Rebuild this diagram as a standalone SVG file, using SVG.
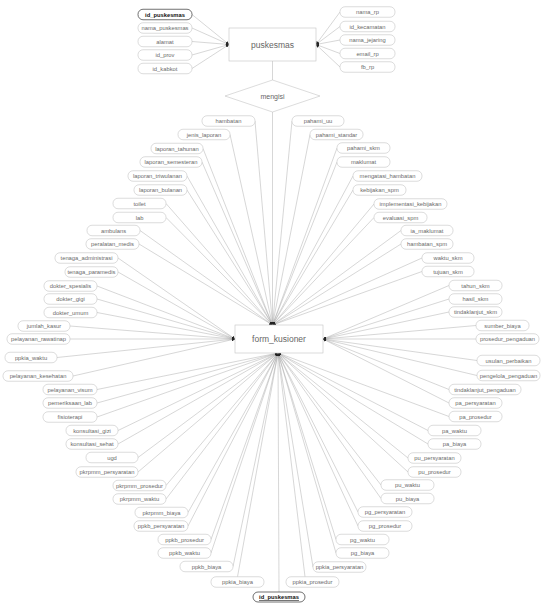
<svg xmlns="http://www.w3.org/2000/svg" width="541" height="603" viewBox="0 0 541 603">
<defs>
<marker id="arr" viewBox="0 0 6 6" refX="6" refY="3" markerWidth="3.2" markerHeight="3.2" orient="auto" markerUnits="userSpaceOnUse"><path d="M0,0 L6,3 L0,6 z" fill="#222"/></marker>
<style>
.a rect{fill:#fff;stroke:#c4c4c4;stroke-width:0.6}
.a text{font-family:"Liberation Sans",Arial,sans-serif;font-size:5.8px;fill:#6a6a6a;text-anchor:middle}
.k rect{fill:#fff;stroke:#333;stroke-width:0.7}
.k text{font-family:"Liberation Sans",Arial,sans-serif;font-size:5.8px;fill:#111;font-weight:bold;text-anchor:middle}
.e rect,.e polygon{fill:#fff;stroke:#c4c4c4;stroke-width:0.6}
.e text{font-family:"Liberation Sans",Arial,sans-serif;font-size:8.5px;fill:#666;text-anchor:middle}
#connectors line{stroke:#9a9a9a;stroke-width:0.4;fill:none}
#connectors line.m{marker-end:url(#arr)}
</style>
</defs>
<rect width="541" height="603" fill="#fff"/>
<g id="connectors">
<line class="m" x1="192" y1="14.5" x2="229" y2="44.5"/>
<line class="m" x1="192" y1="28" x2="229" y2="44.5"/>
<line class="m" x1="192" y1="41.5" x2="229" y2="44.5"/>
<line class="m" x1="192" y1="55" x2="229" y2="44.5"/>
<line class="m" x1="192" y1="68.5" x2="229" y2="44.5"/>
<line class="m" x1="340" y1="12" x2="316" y2="44.5"/>
<line class="m" x1="340" y1="26.5" x2="316" y2="44.5"/>
<line class="m" x1="340" y1="40" x2="316" y2="44.5"/>
<line class="m" x1="340" y1="53.5" x2="316" y2="44.5"/>
<line class="m" x1="340" y1="67" x2="316" y2="44.5"/>
<line x1="272.5" y1="61" x2="272.5" y2="80"/>
<line class="m" x1="272.5" y1="112" x2="272.5" y2="325"/>
<line class="m" x1="279" y1="592" x2="278" y2="353"/>
<line class="m" x1="255" y1="121" x2="272.5" y2="325"/>
<line class="m" x1="230" y1="134.5" x2="272.5" y2="325"/>
<line class="m" x1="203" y1="148.5" x2="272.5" y2="325"/>
<line class="m" x1="202" y1="162" x2="272.5" y2="325"/>
<line class="m" x1="187" y1="176" x2="272.5" y2="325"/>
<line class="m" x1="187" y1="190" x2="272.5" y2="325"/>
<line class="m" x1="166" y1="203.5" x2="272.5" y2="325"/>
<line class="m" x1="166" y1="217.5" x2="272.5" y2="325"/>
<line class="m" x1="140" y1="230.5" x2="272.5" y2="325"/>
<line class="m" x1="139" y1="244" x2="272.5" y2="325"/>
<line class="m" x1="118" y1="258" x2="235" y2="339"/>
<line class="m" x1="118" y1="272" x2="235" y2="339"/>
<line class="m" x1="97" y1="286" x2="235" y2="339"/>
<line class="m" x1="97" y1="299" x2="235" y2="339"/>
<line class="m" x1="97" y1="312.5" x2="235" y2="339"/>
<line class="m" x1="70" y1="326" x2="235" y2="339"/>
<line class="m" x1="70" y1="339" x2="235" y2="339"/>
<line class="m" x1="57" y1="357.5" x2="235" y2="339"/>
<line class="m" x1="73" y1="376" x2="235" y2="339"/>
<line class="m" x1="97" y1="389.5" x2="278" y2="353"/>
<line class="m" x1="97" y1="403" x2="278" y2="353"/>
<line class="m" x1="97" y1="417" x2="278" y2="353"/>
<line class="m" x1="118" y1="430.5" x2="278" y2="353"/>
<line class="m" x1="118" y1="444" x2="278" y2="353"/>
<line class="m" x1="138" y1="457.5" x2="278" y2="353"/>
<line class="m" x1="138" y1="472" x2="278" y2="353"/>
<line class="m" x1="166" y1="485.5" x2="278" y2="353"/>
<line class="m" x1="166" y1="499" x2="278" y2="353"/>
<line class="m" x1="188" y1="512.5" x2="278" y2="353"/>
<line class="m" x1="188" y1="526" x2="278" y2="353"/>
<line class="m" x1="211" y1="539.5" x2="278" y2="353"/>
<line class="m" x1="211" y1="553" x2="278" y2="353"/>
<line class="m" x1="233" y1="566.5" x2="278" y2="353"/>
<line class="m" x1="237.5" y1="576.75" x2="278" y2="353"/>
<line class="m" x1="292" y1="121" x2="272.5" y2="325"/>
<line class="m" x1="310" y1="134.5" x2="272.5" y2="325"/>
<line class="m" x1="337" y1="148" x2="272.5" y2="325"/>
<line class="m" x1="337" y1="162" x2="272.5" y2="325"/>
<line class="m" x1="353" y1="176" x2="272.5" y2="325"/>
<line class="m" x1="353" y1="190" x2="272.5" y2="325"/>
<line class="m" x1="374" y1="204" x2="272.5" y2="325"/>
<line class="m" x1="374" y1="217.5" x2="272.5" y2="325"/>
<line class="m" x1="401" y1="230.5" x2="272.5" y2="325"/>
<line class="m" x1="401" y1="244" x2="272.5" y2="325"/>
<line class="m" x1="422" y1="258" x2="272.5" y2="325"/>
<line class="m" x1="422" y1="271.5" x2="272.5" y2="325"/>
<line class="m" x1="449" y1="285.5" x2="323" y2="339"/>
<line class="m" x1="449" y1="299" x2="323" y2="339"/>
<line class="m" x1="449" y1="312" x2="323" y2="339"/>
<line class="m" x1="476" y1="325.5" x2="323" y2="339"/>
<line class="m" x1="476" y1="339" x2="323" y2="339"/>
<line class="m" x1="477" y1="360.5" x2="323" y2="339"/>
<line class="m" x1="477" y1="375.5" x2="323" y2="339"/>
<line class="m" x1="449" y1="389.5" x2="323" y2="339"/>
<line class="m" x1="449" y1="403" x2="323" y2="339"/>
<line class="m" x1="449" y1="416.5" x2="278" y2="353"/>
<line class="m" x1="428" y1="430.5" x2="278" y2="353"/>
<line class="m" x1="428" y1="444" x2="278" y2="353"/>
<line class="m" x1="408" y1="458" x2="278" y2="353"/>
<line class="m" x1="408" y1="472" x2="278" y2="353"/>
<line class="m" x1="381" y1="485" x2="278" y2="353"/>
<line class="m" x1="381" y1="498.5" x2="278" y2="353"/>
<line class="m" x1="358" y1="512" x2="278" y2="353"/>
<line class="m" x1="358" y1="526" x2="278" y2="353"/>
<line class="m" x1="336" y1="539.5" x2="278" y2="353"/>
<line class="m" x1="336" y1="553" x2="278" y2="353"/>
<line class="m" x1="313" y1="567" x2="278" y2="353"/>
<line class="m" x1="305" y1="576.75" x2="278" y2="353"/>
</g>
<g id="puskesmas" class="e"><rect x="229" y="28" width="87" height="33"/><text x="272.5" y="47.5">puskesmas</text></g>
<g id="mengisi" class="e"><polygon points="272.5,80 320,96 272.5,112 225,96"/><text x="272.5" y="98.5" style="font-size:7px">mengisi</text></g>
<g id="form_kusioner" class="e"><rect x="235" y="325" width="88" height="28"/><text x="279" y="342">form_kusioner</text></g>
<g id="p_id_puskesmas" class="k"><rect x="138" y="9.25" width="54" height="10.5" rx="5"/><text x="165" y="16.5">id_puskesmas</text></g>
<g id="p_nama_puskesmas" class="a"><rect x="138" y="22.75" width="54" height="10.5" rx="5"/><text x="165" y="30">nama_puskesmas</text></g>
<g id="p_alamat" class="a"><rect x="138" y="36.25" width="54" height="10.5" rx="5"/><text x="165" y="43.5">alamat</text></g>
<g id="p_id_prov" class="a"><rect x="138" y="49.75" width="54" height="10.5" rx="5"/><text x="165" y="57">id_prov</text></g>
<g id="p_id_kabkot" class="a"><rect x="138" y="63.25" width="54" height="10.5" rx="5"/><text x="165" y="70.5">id_kabkot</text></g>
<g id="p_nama_rp" class="a"><rect x="340" y="6.75" width="55" height="10.5" rx="5"/><text x="367.5" y="14">nama_rp</text></g>
<g id="p_id_kecamatan" class="a"><rect x="340" y="21.25" width="55" height="10.5" rx="5"/><text x="367.5" y="28.5">id_kecamatan</text></g>
<g id="p_nama_jejaring" class="a"><rect x="340" y="34.75" width="55" height="10.5" rx="5"/><text x="367.5" y="42">nama_jejaring</text></g>
<g id="p_email_rp" class="a"><rect x="340" y="48.25" width="55" height="10.5" rx="5"/><text x="367.5" y="55.5">email_rp</text></g>
<g id="p_fb_rp" class="a"><rect x="340" y="61.75" width="55" height="10.5" rx="5"/><text x="367.5" y="69">fb_rp</text></g>
<g id="f_hambatan" class="a"><rect x="202" y="115.75" width="53" height="10.5" rx="5"/><text x="228.5" y="123">hambatan</text></g>
<g id="f_jenis_laporan" class="a"><rect x="178" y="129.25" width="52" height="10.5" rx="5"/><text x="204" y="136.5">jenis_laporan</text></g>
<g id="f_laporan_tahunan" class="a"><rect x="151" y="143.25" width="52" height="10.5" rx="5"/><text x="177" y="150.5">laporan_tahunan</text></g>
<g id="f_laporan_semesteran" class="a"><rect x="140" y="156.75" width="62" height="10.5" rx="5"/><text x="171" y="164">laporan_semesteran</text></g>
<g id="f_laporan_triwulanan" class="a"><rect x="128" y="170.75" width="59" height="10.5" rx="5"/><text x="157.5" y="178">laporan_triwulanan</text></g>
<g id="f_laporan_bulanan" class="a"><rect x="134" y="184.75" width="53" height="10.5" rx="5"/><text x="160.5" y="192">laporan_bulanan</text></g>
<g id="f_toilet" class="a"><rect x="113" y="198.25" width="53" height="10.5" rx="5"/><text x="139.5" y="205.5">toilet</text></g>
<g id="f_lab" class="a"><rect x="113" y="212.25" width="53" height="10.5" rx="5"/><text x="139.5" y="219.5">lab</text></g>
<g id="f_ambulans" class="a"><rect x="87" y="225.25" width="53" height="10.5" rx="5"/><text x="113.5" y="232.5">ambulans</text></g>
<g id="f_peralatan_medis" class="a"><rect x="86" y="238.75" width="53" height="10.5" rx="5"/><text x="112.5" y="246">peralatan_medis</text></g>
<g id="f_tenaga_administrasi" class="a"><rect x="55" y="252.75" width="63" height="10.5" rx="5"/><text x="86.5" y="260">tenaga_administrasi</text></g>
<g id="f_tenaga_paramedis" class="a"><rect x="65" y="266.75" width="53" height="10.5" rx="5"/><text x="91.5" y="274">tenaga_paramedis</text></g>
<g id="f_dokter_spesialis" class="a"><rect x="44" y="280.75" width="53" height="10.5" rx="5"/><text x="70.5" y="288">dokter_spesialis</text></g>
<g id="f_dokter_gigi" class="a"><rect x="44" y="293.75" width="53" height="10.5" rx="5"/><text x="70.5" y="301">dokter_gigi</text></g>
<g id="f_dokter_umum" class="a"><rect x="44" y="307.25" width="53" height="10.5" rx="5"/><text x="70.5" y="314.5">dokter_umum</text></g>
<g id="f_jumlah_kasur" class="a"><rect x="18" y="320.75" width="52" height="10.5" rx="5"/><text x="44" y="328">jumlah_kasur</text></g>
<g id="f_pelayanan_rawatinap" class="a"><rect x="7" y="333.75" width="63" height="10.5" rx="5"/><text x="38.5" y="341">pelayanan_rawatinap</text></g>
<g id="f_ppkia_waktu" class="a"><rect x="5" y="352.25" width="52" height="10.5" rx="5"/><text x="31" y="359.5">ppkia_waktu</text></g>
<g id="f_pelayanan_kesehatan" class="a"><rect x="3" y="370.75" width="70" height="10.5" rx="5"/><text x="38" y="378">pelayanan_kesehatan</text></g>
<g id="f_pelayanan_visum" class="a"><rect x="43" y="384.25" width="54" height="10.5" rx="5"/><text x="70" y="391.5">pelayanan_visum</text></g>
<g id="f_pemeriksaan_lab" class="a"><rect x="43" y="397.75" width="54" height="10.5" rx="5"/><text x="70" y="405">pemeriksaan_lab</text></g>
<g id="f_fisioterapi" class="a"><rect x="43" y="411.75" width="54" height="10.5" rx="5"/><text x="70" y="419">fisioterapi</text></g>
<g id="f_konsultasi_gizi" class="a"><rect x="66" y="425.25" width="52" height="10.5" rx="5"/><text x="92" y="432.5">konsultasi_gizi</text></g>
<g id="f_konsultasi_sehat" class="a"><rect x="66" y="438.75" width="52" height="10.5" rx="5"/><text x="92" y="446">konsultasi_sehat</text></g>
<g id="f_ugd" class="a"><rect x="86" y="452.25" width="52" height="10.5" rx="5"/><text x="112" y="459.5">ugd</text></g>
<g id="f_pkrpmm_persyaratan" class="a"><rect x="76" y="466.75" width="62" height="10.5" rx="5"/><text x="107" y="474">pkrpmm_persyaratan</text></g>
<g id="f_pkrpmm_prosedur" class="a"><rect x="113" y="480.25" width="53" height="10.5" rx="5"/><text x="139.5" y="487.5">pkrpmm_prosedur</text></g>
<g id="f_pkrpmm_waktu" class="a"><rect x="113" y="493.75" width="53" height="10.5" rx="5"/><text x="139.5" y="501">pkrpmm_waktu</text></g>
<g id="f_pkrpmm_biaya" class="a"><rect x="135" y="507.25" width="53" height="10.5" rx="5"/><text x="161.5" y="514.5">pkrpmm_biaya</text></g>
<g id="f_ppkb_persyaratan" class="a"><rect x="134" y="520.75" width="54" height="10.5" rx="5"/><text x="161" y="528">ppkb_persyaratan</text></g>
<g id="f_ppkb_prosedur" class="a"><rect x="158" y="534.25" width="53" height="10.5" rx="5"/><text x="184.5" y="541.5">ppkb_prosedur</text></g>
<g id="f_ppkb_waktu" class="a"><rect x="158" y="547.75" width="53" height="10.5" rx="5"/><text x="184.5" y="555">ppkb_waktu</text></g>
<g id="f_ppkb_biaya" class="a"><rect x="180" y="561.25" width="53" height="10.5" rx="5"/><text x="206.5" y="568.5">ppkb_biaya</text></g>
<g id="f_ppkia_biaya" class="a"><rect x="211" y="576.75" width="53" height="10.5" rx="5"/><text x="237.5" y="584">ppkia_biaya</text></g>
<g id="f_pahami_uu" class="a"><rect x="292" y="115.75" width="52" height="10.5" rx="5"/><text x="318" y="123">pahami_uu</text></g>
<g id="f_pahami_standar" class="a"><rect x="310" y="129.25" width="53" height="10.5" rx="5"/><text x="336.5" y="136.5">pahami_standar</text></g>
<g id="f_pahami_skm" class="a"><rect x="337" y="142.75" width="53" height="10.5" rx="5"/><text x="363.5" y="150">pahami_skm</text></g>
<g id="f_maklumat" class="a"><rect x="337" y="156.75" width="53" height="10.5" rx="5"/><text x="363.5" y="164">maklumat</text></g>
<g id="f_mengatasi_hambatan" class="a"><rect x="353" y="170.75" width="69" height="10.5" rx="5"/><text x="387.5" y="178">mengatasi_hambatan</text></g>
<g id="f_kebijakan_spm" class="a"><rect x="353" y="184.75" width="53" height="10.5" rx="5"/><text x="379.5" y="192">kebijakan_spm</text></g>
<g id="f_implementasi_kebijakan" class="a"><rect x="374" y="198.75" width="73" height="10.5" rx="5"/><text x="410.5" y="206">implementasi_kebijakan</text></g>
<g id="f_evaluasi_spm" class="a"><rect x="374" y="212.25" width="53" height="10.5" rx="5"/><text x="400.5" y="219.5">evaluasi_spm</text></g>
<g id="f_ia_maklumat" class="a"><rect x="401" y="225.25" width="52" height="10.5" rx="5"/><text x="427" y="232.5">ia_maklumat</text></g>
<g id="f_hambatan_spm" class="a"><rect x="401" y="238.75" width="52" height="10.5" rx="5"/><text x="427" y="246">hambatan_spm</text></g>
<g id="f_waktu_skm" class="a"><rect x="422" y="252.75" width="52" height="10.5" rx="5"/><text x="448" y="260">waktu_skm</text></g>
<g id="f_tujuan_skm" class="a"><rect x="422" y="266.25" width="52" height="10.5" rx="5"/><text x="448" y="273.5">tujuan_skm</text></g>
<g id="f_tahun_skm" class="a"><rect x="449" y="280.25" width="53" height="10.5" rx="5"/><text x="475.5" y="287.5">tahun_skm</text></g>
<g id="f_hasil_skm" class="a"><rect x="449" y="293.75" width="53" height="10.5" rx="5"/><text x="475.5" y="301">hasil_skm</text></g>
<g id="f_tindaklanjut_skm" class="a"><rect x="449" y="306.75" width="53" height="10.5" rx="5"/><text x="475.5" y="314">tindaklanjut_skm</text></g>
<g id="f_sumber_biaya" class="a"><rect x="476" y="320.25" width="53" height="10.5" rx="5"/><text x="502.5" y="327.5">sumber_biaya</text></g>
<g id="f_prosedur_pengaduan" class="a"><rect x="476" y="333.75" width="63" height="10.5" rx="5"/><text x="507.5" y="341">prosedur_pengaduan</text></g>
<g id="f_usulan_perbaikan" class="a"><rect x="477" y="355.25" width="63" height="10.5" rx="5"/><text x="508.5" y="362.5">usulan_perbaikan</text></g>
<g id="f_pengelola_pengaduan" class="a"><rect x="477" y="370.25" width="63" height="10.5" rx="5"/><text x="508.5" y="377.5">pengelola_pengaduan</text></g>
<g id="f_tindaklanjut_pengaduan" class="a"><rect x="449" y="384.25" width="72" height="10.5" rx="5"/><text x="485" y="391.5">tindaklanjut_pengaduan</text></g>
<g id="f_pa_persyaratan" class="a"><rect x="449" y="397.75" width="53" height="10.5" rx="5"/><text x="475.5" y="405">pa_persyaratan</text></g>
<g id="f_pa_prosedur" class="a"><rect x="449" y="411.25" width="53" height="10.5" rx="5"/><text x="475.5" y="418.5">pa_prosedur</text></g>
<g id="f_pa_waktu" class="a"><rect x="428" y="425.25" width="53" height="10.5" rx="5"/><text x="454.5" y="432.5">pa_waktu</text></g>
<g id="f_pa_biaya" class="a"><rect x="428" y="438.75" width="53" height="10.5" rx="5"/><text x="454.5" y="446">pa_biaya</text></g>
<g id="f_pu_persyaratan" class="a"><rect x="408" y="452.75" width="53" height="10.5" rx="5"/><text x="434.5" y="460">pu_persyaratan</text></g>
<g id="f_pu_prosedur" class="a"><rect x="408" y="466.75" width="53" height="10.5" rx="5"/><text x="434.5" y="474">pu_prosedur</text></g>
<g id="f_pu_waktu" class="a"><rect x="381" y="479.75" width="53" height="10.5" rx="5"/><text x="407.5" y="487">pu_waktu</text></g>
<g id="f_pu_biaya" class="a"><rect x="381" y="493.25" width="53" height="10.5" rx="5"/><text x="407.5" y="500.5">pu_biaya</text></g>
<g id="f_pg_persyaratan" class="a"><rect x="358" y="506.75" width="54" height="10.5" rx="5"/><text x="385" y="514">pg_persyaratan</text></g>
<g id="f_pg_prosedur" class="a"><rect x="358" y="520.75" width="54" height="10.5" rx="5"/><text x="385" y="528">pg_prosedur</text></g>
<g id="f_pg_waktu" class="a"><rect x="336" y="534.25" width="53" height="10.5" rx="5"/><text x="362.5" y="541.5">pg_waktu</text></g>
<g id="f_pg_biaya" class="a"><rect x="336" y="547.75" width="53" height="10.5" rx="5"/><text x="362.5" y="555">pg_biaya</text></g>
<g id="f_ppkia_persyaratan" class="a"><rect x="313" y="561.75" width="53" height="10.5" rx="5"/><text x="339.5" y="569">ppkia_persyaratan</text></g>
<g id="f_ppkia_prosedur" class="a"><rect x="286" y="576.75" width="53" height="10.5" rx="5"/><text x="312.5" y="584">ppkia_prosedur</text></g>
<g id="f_id_puskesmas" class="k"><rect x="253" y="592" width="52" height="10" rx="5"/><text x="279" y="599" text-decoration="underline">id_puskesmas</text></g>
</svg>
